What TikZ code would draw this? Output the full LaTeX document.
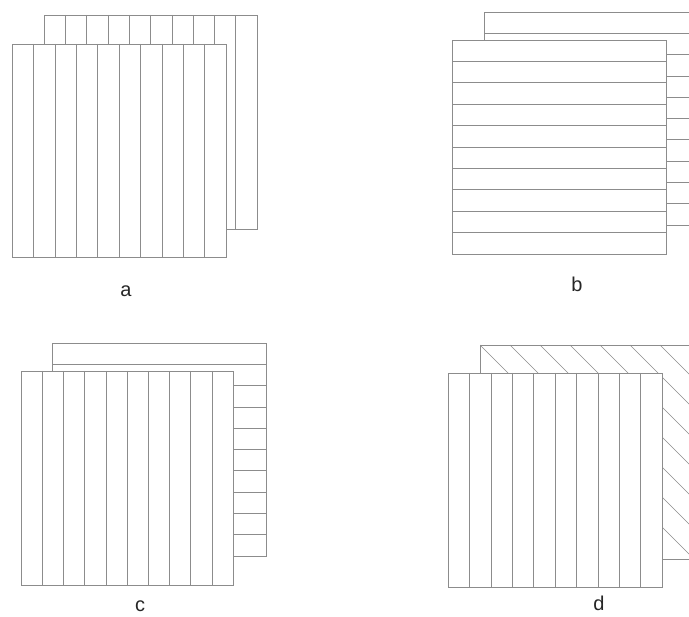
\documentclass[tikz,border=0pt]{standalone}
\usepackage{fontspec}
\setmainfont{Liberation Sans}
\begin{document}
\begin{tikzpicture}[x=1pt,y=-1pt,line width=0.6pt,
  ln/.style={draw=black!45},
  sheet/.style={draw=black!45,fill=white},
  lbl/.style={font=\fontsize{20}{20}\selectfont,inner sep=0pt,anchor=base,text=black!85}]
\clip (0,0) rectangle (689,617);
% ---------- panel a ----------
\draw[sheet] (44,15) rectangle (257,229);
\foreach \i in {1,...,9} \draw[ln] (44+\i*21.3,15) -- (44+\i*21.3,229);
\draw[sheet] (12,44) rectangle (226,257);
\foreach \i in {1,...,9} \draw[ln] (12+\i*21.4,44) -- (12+\i*21.4,257);
\node[lbl] (la) at (126,297) {a};
% ---------- panel b ----------
\draw[sheet] (484,12) rectangle (698,225);
\foreach \i in {1,...,9} \draw[ln] (484,12+\i*21.3) -- (698,12+\i*21.3);
\draw[sheet] (452,40) rectangle (666,254);
\foreach \i in {1,...,9} \draw[ln] (452,40+\i*21.4) -- (666,40+\i*21.4);
\node[lbl] (lb) at (577,292) {b};
% ---------- panel c ----------
\draw[sheet] (52,343) rectangle (266,556);
\foreach \i in {1,...,9} \draw[ln] (52,343+\i*21.3) -- (266,343+\i*21.3);
\draw[sheet] (21,371) rectangle (233,585);
\foreach \i in {1,...,9} \draw[ln] (21+\i*21.2,371) -- (21+\i*21.2,585);
\node[lbl] (lc) at (140,612) {c};
% ---------- panel d ----------
\draw[sheet] (480,345) rectangle (694,559);
\begin{scope}
  \clip (480,345) rectangle (694,559);
  \foreach \k in {0,...,7} \draw[ln] (480+30*\k,345) -- ++(214,214);
\end{scope}
\draw[sheet] (448,373) rectangle (662,587);
\foreach \i in {1,...,9} \draw[ln] (448+\i*21.4,373) -- (448+\i*21.4,587);
\node[lbl] (ld) at (599,611) {d};
\end{tikzpicture}
\end{document}
